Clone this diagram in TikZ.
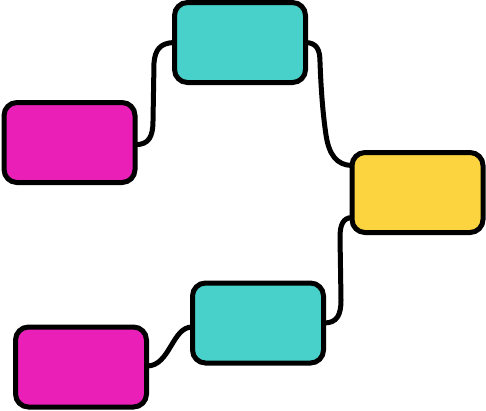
\documentclass[tikz,border=0pt]{standalone}
\usetikzlibrary{calc,backgrounds}
\definecolor{magentabox}{HTML}{E91FB8}
\definecolor{tealbox}{HTML}{48D1CA}
\definecolor{yellowbox}{HTML}{FBD440}
\tikzset{
  card/.style={draw=black, line width=5pt, rounded corners=13pt, minimum width=131pt, minimum height=80pt, inner sep=0pt},
  link/.style={draw=black, line width=5pt, line cap=round}
}
\begin{document}
\begin{tikzpicture}[x=1pt,y=-1pt]
\useasboundingbox (0,0) rectangle (486,410);
\node[card, fill=magentabox] (m1) at (69.5,142.5) {};
\node[card, fill=tealbox] (t1) at (240,42.5) {};
\node[card, fill=yellowbox] (y) at (417.5,192.5) {};
\node[card, fill=tealbox] (t2) at (258,323) {};
\node[card, fill=magentabox] (m2) at (81,367) {};
\begin{pgfonlayer}{background}
\draw[link] ($(m1.east)+(-2,2)$) .. controls (149,145) and (153,136) .. (153,121) -- (154,63) .. controls (155,50) and (160,43) .. ($(t1.west)+(2,0)$);
\draw[link] ($(t1.east)+(-2,0)$) .. controls (317,43) and (320,50) .. (320,62) .. controls (321,90) and (323,115) .. (326,135) .. controls (329,155) and (337,165) .. ($(y.west)+(2,-27)$);
\draw[link] ($(y.west)+(2,25)$) .. controls (343,218) and (340,225) .. (340,237) -- (341,300) .. controls (341,315) and (337,323) .. ($(t2.east)+(-2,0)$);
\draw[link] ($(t2.west)+(2,4)$) .. controls (172,327) and (170,366) .. ($(m2.east)+(-2,-1)$);
\end{pgfonlayer}
\end{tikzpicture}
\end{document}
